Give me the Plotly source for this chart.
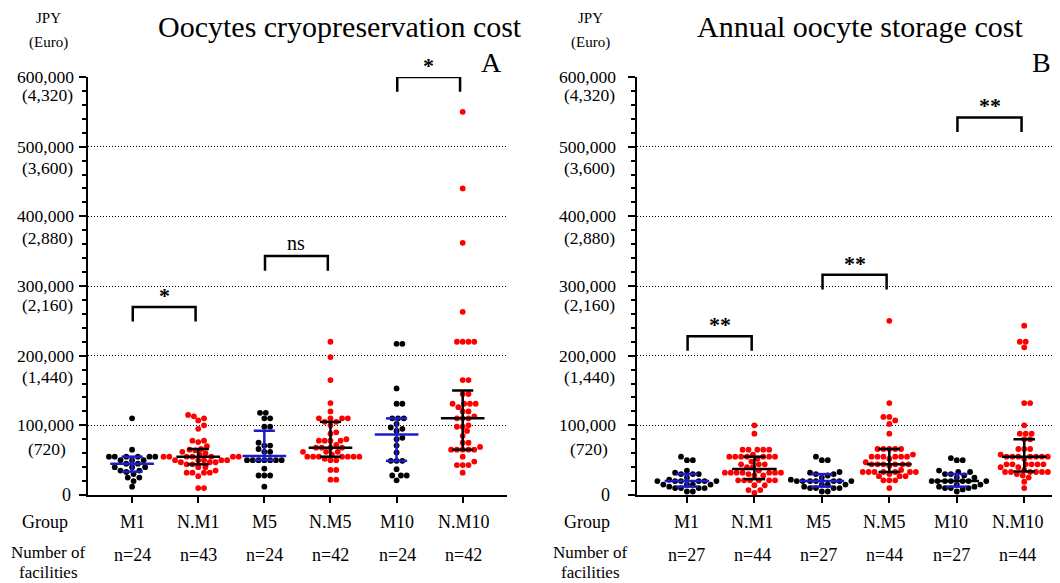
import numpy as np
import plotly.graph_objects as go

# ---------------- data (thousand JPY) ----------------
groups = ["M1", "N.M1", "M5", "N.M5", "M10", "N.M10"]

# Panel A: oocyte cryopreservation cost
cryo_M1 = [110, 65, 55, 55, 55, 55, 55, 55, 50, 50, 50, 45, 45, 40, 40, 40, 35, 35, 33, 30, 25, 25, 20, 12]
cryo_NM1 = [115, 113, 110, 107, 100, 95, 78, 78, 76, 70, 66, 65, 64, 62, 60, 58,
            55, 55, 55, 55, 55, 55, 55, 50, 50, 50, 50, 50, 47, 47, 47,
            44, 44, 40, 40, 35, 32, 32, 32, 32, 27, 10, 10]
cryo_M5 = [118, 118, 110, 110, 98, 98, 75, 71, 71, 66, 62, 62,
           50, 50, 50, 50, 50, 50, 50, 38, 28, 28, 28, 12]
cryo_NM5 = [220, 198, 165, 132, 120, 110, 110, 110, 110, 105, 105, 100, 90, 88, 80,
            78, 78, 78, 78, 72, 68, 68, 68, 68, 62, 62, 62, 58,
            55, 55, 55, 55, 55, 55, 55, 52, 50, 50, 36, 36, 22, 22]
cryo_M10 = [217, 217, 153, 131, 131, 110, 110, 110, 102, 97, 95, 92, 82, 80, 71, 61,
            49, 49, 49, 37, 28, 28, 28, 21]
cryo_NM10 = [550, 440, 362, 263, 220, 220, 220, 220, 165, 165, 145, 145,
             131, 131, 131, 131, 126, 120, 120, 113, 110, 110, 110, 100, 98, 98,
             92, 85, 75, 75, 69, 65, 65, 65, 65, 65, 55, 48, 43, 43, 43, 32]

# Panel B: annual oocyte storage cost
stor_M1 = [55, 50, 50, 35, 32, 30, 30, 30, 25, 22, 20, 20, 20, 20, 20, 20,
           15, 15, 15, 15, 12, 10, 10, 10, 10, 5, 5]
stor_NM1 = [100, 88, 65, 65, 65, 65, 65, 58, 55, 55, 55, 55, 55, 55, 55, 52, 48,
            44, 44, 44, 40, 40, 35, 32, 32, 32, 32, 32, 32, 32, 30, 28, 28,
            21, 21, 21, 21, 21, 21, 14, 14, 7, 7, 3]
stor_M5 = [55, 50, 50, 33, 32, 30, 30, 28, 25, 22, 20, 20, 20, 20, 20, 20, 20,
           15, 15, 15, 12, 10, 10, 10, 10, 5, 5]
stor_NM5 = [250, 132, 112, 112, 107, 102, 88, 66, 66, 66, 66, 66, 58,
            55, 55, 55, 55, 55, 55, 52, 47, 44, 44, 44, 44, 44, 44, 42, 36,
            33, 33, 33, 33, 33, 33, 33, 30, 27, 27, 27, 21, 21, 21, 10]
stor_M10 = [53, 50, 50, 35, 33, 33, 30, 30, 28, 25, 25, 20, 20, 20, 20, 20, 20, 20,
            15, 15, 12, 12, 10, 10, 10, 8, 5]
stor_NM10 = [243, 220, 220, 212, 132, 132, 100, 88, 88, 88, 80, 80, 66, 66, 66, 58,
             55, 55, 55, 55, 55, 55, 55, 52, 44, 44, 44, 44, 44, 44, 40, 40, 36,
             33, 33, 33, 33, 33, 33, 30, 28, 25, 19, 10]

panelA = [cryo_M1, cryo_NM1, cryo_M5, cryo_NM5, cryo_M10, cryo_NM10]
panelB = [stor_M1, stor_NM1, stor_M5, stor_NM5, stor_M10, stor_NM10]

y_ticks = [0, 100, 200, 300, 400, 500, 600]   # thousand JPY
jpy_to_eur = 0.0072

# significance brackets: (left group, right group, height, label)
brackets_A = [(0, 1, 270, "*"), (2, 3, 343, "ns"), (4, 5, 600, "*")]
brackets_B = [(0, 1, 228, "**"), (2, 3, 316, "**"), (4, 5, 542, "**")]

# ---------------- style ----------------
# the page body has an 8px margin, so the figure is drawn 8px smaller and all
# reference pixel positions are shifted by that margin
OFF = 8
W, H = 1060 - OFF, 583 - OFF
FONT = "Liberation Serif"
RED = "#ff0000"
BLACK = "#000000"
BLUE = "#1c1cc8"
dot_colors = [BLACK, RED, BLACK, RED, BLACK, RED]
bar_colors = [BLUE, BLACK, BLUE, BLACK, BLUE, BLACK]
med_colors_A = [BLUE, BLACK, BLUE, BLACK, BLUE, BLACK]
med_colors_B = [BLUE, BLACK, BLUE, BLACK, BLACK, BLACK]
PX_PER_CAT = 66.3
PX_PER_K = 0.697
y_bottom_px, y_top_px = 495, 77


def px(x):
    return (x - OFF) / W


def py(y):
    return 1 - (y - OFF) / H


def swarm(vals, d=5.8):
    vals = np.asarray(vals, float)
    order = np.argsort(vals, kind="stable")
    step = d / 4
    cands = [0.0]
    for k in range(1, 120):
        cands += [k * step, -k * step]
    placed = []
    offs = np.zeros(len(vals))
    for i in order:
        yv = vals[i] * PX_PER_K
        for c in cands:
            if all((c - a) ** 2 + (yv - b) ** 2 >= d * d * 0.97 for a, b in placed):
                break
        placed.append((c, yv))
        offs[i] = c / PX_PER_CAT
    return offs


fig = go.Figure()


def add_panel(data, xa, ya, med_colors, brackets):
    for gi, vals in enumerate(data):
        offs = swarm(vals)
        fig.add_trace(go.Scatter(
            x=gi + offs, y=vals, mode="markers", xaxis=xa, yaxis=ya,
            marker=dict(size=5.8, color=dot_colors[gi], line=dict(width=0)),
            showlegend=False, hoverinfo="y", cliponaxis=False))
    for gi, vals in enumerate(data):
        q1, med, q3 = np.percentile(vals, [25, 50, 75], method="weibull")
        c = bar_colors[gi]
        cap = 0.16
        mw = 0.33
        fig.add_trace(go.Scatter(
            x=[gi, gi, None, gi - cap, gi + cap, None, gi - cap, gi + cap],
            y=[q1, q3, None, q1, q1, None, q3, q3],
            mode="lines", xaxis=xa, yaxis=ya, line=dict(color=c, width=2.5),
            showlegend=False, hoverinfo="skip"))
        fig.add_trace(go.Scatter(
            x=[gi - mw, gi + mw], y=[med, med], mode="lines", xaxis=xa, yaxis=ya,
            line=dict(color=med_colors[gi], width=2.5), showlegend=False,
            hoverinfo="skip"))
    for a, b, h, lab in brackets:
        x0, x1 = a + 0.01, b - 0.04
        leg = 21
        fig.add_trace(go.Scatter(
            x=[x0, x0, x1, x1], y=[h - leg, h, h, h - leg], mode="lines",
            xaxis=xa, yaxis=ya, line=dict(color=BLACK, width=2.5),
            showlegend=False, hoverinfo="skip", cliponaxis=False))
        is_ns = lab == "ns"
        fig.add_annotation(x=(x0 + x1) / 2, y=h, xref=xa, yref=ya,
                           text=(lab if is_ns else f"<b>{lab}</b>"),
                           showarrow=False, yanchor="bottom",
                           yshift=(0 if is_ns else -3),
                           font=dict(family=FONT, size=(20 if is_ns else 22),
                                     color=BLACK))


add_panel(panelA, "x", "y", med_colors_A, brackets_A)
add_panel(panelB, "x2", "y2", med_colors_B, brackets_B)

axis_common_x = dict(showline=True, linewidth=2, linecolor=BLACK, ticks="outside",
                     ticklen=6, tickwidth=2, tickcolor=BLACK, tickvals=list(range(6)),
                     showticklabels=False, showgrid=False, zeroline=False)
axis_common_y = dict(showline=True, linewidth=2, linecolor=BLACK, ticks="outside",
                     ticklen=7, tickwidth=2, tickcolor=BLACK, tickvals=y_ticks,
                     showticklabels=False, showgrid=True, gridcolor=BLACK,
                     griddash="1px,2px", gridwidth=1, zeroline=False, range=[0, 600],
                     minor=dict(dtick=20, ticks="outside", ticklen=4, tickwidth=1.5,
                                tickcolor=BLACK, showgrid=False))

ydom = [py(y_bottom_px), py(y_top_px)]
fig.update_layout(
    width=W, height=H, margin=dict(l=0, r=0, t=0, b=0),
    paper_bgcolor="white", plot_bgcolor="white", showlegend=False,
    font=dict(family=FONT, color=BLACK),
    xaxis=dict(domain=[px(88), px(507)], range=[-0.667, 5.67], anchor="y", **axis_common_x),
    yaxis=dict(domain=ydom, anchor="x", **axis_common_y),
    xaxis2=dict(domain=[px(637), 1.0], range=[-0.74, 5.53], anchor="y2", **axis_common_x),
    yaxis2=dict(domain=ydom, anchor="x2", **axis_common_y),
)

euro_gap = {0: 0, 100: 24, 200: 21, 300: 19, 400: 22, 500: 21, 600: 18}


def ann(x, y, text, size, xanchor="center", yanchor="middle", **kw):
    fig.add_annotation(x=px(x), y=py(y), xref="paper", yref="paper", text=text,
                       showarrow=False, xanchor=xanchor, yanchor=yanchor,
                       font=dict(family=FONT, size=size, color=BLACK), **kw)


for lab_cx, zero_x, cat0, title, title_cx, letter, letter_x, nrow in [
        (45, 73, 132, "Oocytes cryopreservation cost", 340, "A", 491, panelA),
        (587, 612, 686, "Annual oocyte storage cost", 860, "B", 1041, panelB)]:
    # y tick labels
    for v in y_ticks:
        ypx = y_bottom_px - v * PX_PER_K
        if v == 0:
            ann(zero_x, ypx, "0", 18, xanchor="right")
            continue
        ann(lab_cx, ypx, f"{v * 1000:,}", 17.5)
        ann(lab_cx + 2, ypx + euro_gap[v], f"({round(v * 1000 * jpy_to_eur):,})", 17.5)
    ann(lab_cx + 3, 18, "JPY", 15)
    ann(lab_cx + 3, 42, "(Euro)", 15)
    ann(title_cx, OFF, title, 30, yanchor="top")
    ann(letter_x, 62, letter, 28)
    ann(lab_cx, 522, "Group", 18)
    ann(lab_cx + 3, 552, "Number of", 17)
    ann(lab_cx + 3, 572, "facilities", 17)
    for gi, g in enumerate(groups):
        cx = cat0 + gi * PX_PER_CAT
        ann(cx, 522, g, 18)
        ann(cx, 555, f"n={len(nrow[gi])}", 18)

fig.write_html("out.html")
